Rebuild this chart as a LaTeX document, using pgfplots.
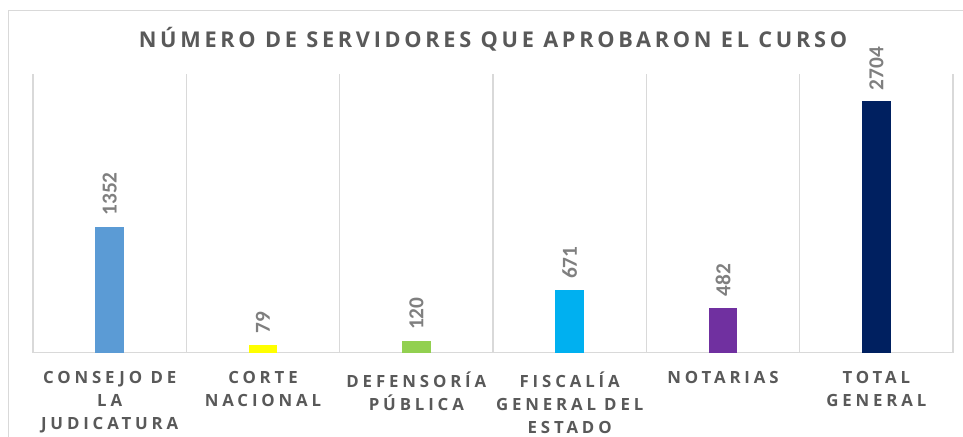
\documentclass[border=0pt]{standalone}
\usepackage{fontspec}
\usepackage{pgfplots}
\pgfplotsset{compat=1.18}
\setmainfont{Carlito}
\newfontfamily\tickfont{Open Sans}[LetterSpace=23]
\newfontfamily\titlefont{Open Sans}[LetterSpace=17]
\definecolor{gridc}{HTML}{D9D9D9}
\definecolor{txtc}{HTML}{595959}
\definecolor{lblc}{HTML}{7F7F7F}
\definecolor{c1}{HTML}{5B9BD5}
\definecolor{c2}{HTML}{FFFF00}
\definecolor{c3}{HTML}{92D050}
\definecolor{c4}{HTML}{00B0F0}
\definecolor{c5}{HTML}{7030A0}
\definecolor{c6}{HTML}{002060}
\begin{document}
\begin{tikzpicture}[x=0.75pt,y=0.75pt]
\path[use as bounding box] (0,0) rectangle (963,436);
\draw[gridc, line width=1.1pt] (8.5,-5) -- (8.5,425.5) -- (970,425.5);
\node[font=\titlefont\bfseries\fontsize{16.3}{19}\selectfont, text=txtc] at (493,397) {NÚMERO DE SERVIDORES QUE APROBARON EL CURSO};
\begin{axis}[
  at={(24.75pt,62.625pt)}, anchor=south west,
  scale only axis, width=690pt, height=208.875pt,
  xmin=-0.5, xmax=5.5, ymin=0, ymax=3000,
  axis x line=bottom, axis y line=none,
  x axis line style={-, gridc, line width=0.9pt},
  xtick={0,1,2,3,4,5},
  xticklabels={{CONSEJO DE\\LA\\JUDICATURA},{CORTE\\NACIONAL},{DEFENSORÍA\\PÚBLICA},{FISCALÍA\\GENERAL DEL\\ESTADO},{NOTARIAS},{TOTAL\\GENERAL}},
  xticklabel style={align=center, font=\tickfont\bfseries\fontsize{12.6}{17.25}\selectfont, text=txtc, inner sep=0pt, yshift=-14pt},
  major tick length=0pt,
  minor xtick={-0.5,0.5,1.5,2.5,3.5,4.5,5.5},
  xminorgrids, minor grid style={gridc, line width=0.9pt},
  minor tick length=0pt,
  ybar, bar width=21.5pt,
  /pgf/number format/.cd, 1000 sep={}, assume math mode=true, /pgfplots/.cd,
  every node near coord/.append style={rotate=90, anchor=west, font=\bfseries\fontsize{16}{18}\selectfont, text=lblc, xshift=5pt},
  nodes near coords,
  clip=false,
]
\addplot[bar shift=0pt, fill=c1, draw=none] coordinates {(0,1352)};
\addplot[bar shift=0pt, fill=c2, draw=none] coordinates {(1,79)};
\addplot[bar shift=0pt, fill=c3, draw=none] coordinates {(2,120)};
\addplot[bar shift=0pt, fill=c4, draw=none] coordinates {(3,671)};
\addplot[bar shift=0pt, fill=c5, draw=none] coordinates {(4,482)};
\addplot[bar shift=0pt, fill=c6, draw=none] coordinates {(5,2704)};
\end{axis}
\end{tikzpicture}
\end{document}
